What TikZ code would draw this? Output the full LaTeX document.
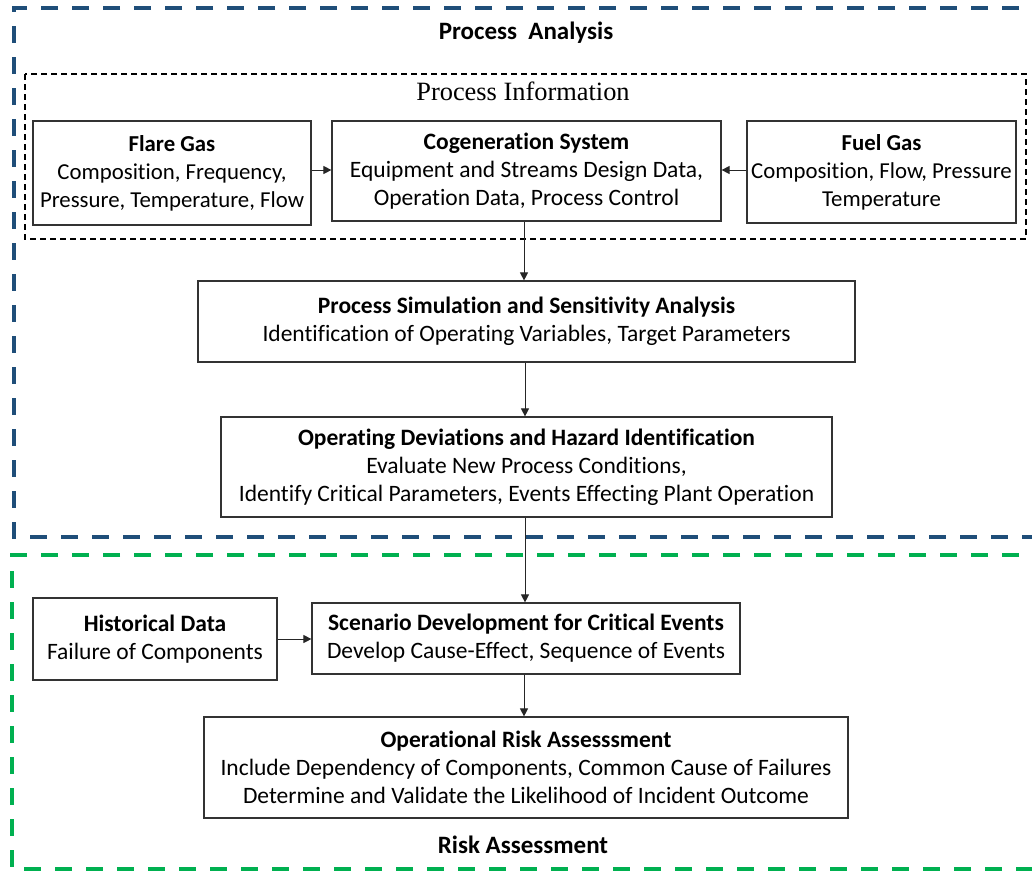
\documentclass[tikz,border=0pt]{standalone}
\usepackage{fontspec}
\setmainfont{Carlito}[Ligatures=NoCommon]
\newfontfamily\serifinfo{Liberation Serif}
\usetikzlibrary{arrows.meta}
\definecolor{pablue}{HTML}{1F4E79}
\definecolor{ragreen}{HTML}{00B050}
\definecolor{boxgray}{HTML}{333333}
\begin{document}
\begin{tikzpicture}[x=1pt,y=-1pt,
  box/.style={draw=boxgray, line width=1.2pt, align=center, inner sep=2pt,
    font=\fontsize{23.5}{28}\selectfont},
  smallbox/.style={box, font=\fontsize{22.8}{28}\selectfont},
  conn/.style={draw=black!85, line width=1pt, -{Triangle[length=8pt,width=8pt]}},
  bigdash/.style={line width=4pt, dash pattern=on 17pt off 14pt},
  ttl/.style={font=\fontsize{25}{28}\selectfont\bfseries}
]
\useasboundingbox (0,0) rectangle (1032,871);
\clip (0,0) rectangle (1032,871);
\fill[white] (0,0) rectangle (1032,871);
% group frames
\draw[bigdash, draw=pablue] (1050,8) -- (14,8) -- (14,537) -- (1050,537);
\draw[bigdash, draw=ragreen] (1050,555) -- (12,555) -- (12,869) -- (1050,869);
\draw[black, line width=1.6pt, dash pattern=on 6pt off 4pt] (25,74) rectangle (1026,239);
% titles
\node[ttl] (tpa) at (526,33) {Process~ Analysis};
\node[font=\serifinfo\fontsize{26.4}{30}\selectfont] (tpi) at (523,91) {Process Information};
\node[ttl] (tra) at (523,845) {Risk Assessment};
% boxes
\node[smallbox, minimum width=278pt, minimum height=104pt] (flare) at (172,173)
  {\textbf{Flare Gas}\\Composition, Frequency,\\Pressure, Temperature, Flow};
\node[box, minimum width=389pt, minimum height=100pt] (cogen) at (526.5,171)
  {\textbf{Cogeneration System}\\Equipment and Streams Design Data,\\Operation Data, Process Control};
\node[smallbox, minimum width=269pt, minimum height=102pt] (fuel) at (881.5,172)
  {\textbf{Fuel Gas}\\Composition, Flow, Pressure\\Temperature};
\node[box, minimum width=657pt, minimum height=81pt] (psim) at (526.5,321.5)
  {\textbf{Process Simulation and Sensitivity Analysis}\\Identification of Operating Variables, Target Parameters};
\node[box, minimum width=611pt, minimum height=100pt] (opdev) at (526.5,467)
  {\textbf{Operating Deviations and Hazard Identification}\\Evaluate New Process Conditions,\\Identify Critical Parameters, Events Effecting Plant Operation};
\node[box, minimum width=244pt, minimum height=82pt] (hist) at (155,639)
  {\textbf{Historical Data}\\Failure of Components};
\node[box, minimum width=428pt, minimum height=71pt] (scen) at (526,638.5)
  {\textbf{Scenario Development for Critical Events}\\Develop Cause-Effect, Sequence of Events};
\node[box, minimum width=644pt, minimum height=101pt] (risk) at (526,767.5)
  {\textbf{Operational Risk Assesssment}\\Include Dependency of Components, Common Cause of Failures\\Determine and Validate the Likelihood of Incident Outcome};
% connectors
\draw[conn] (flare.east |- 0,170) -- (cogen.west |- 0,170);
\draw[conn] (fuel.west |- 0,170) -- (cogen.east |- 0,170);
\draw[conn] (cogen.south -| 524,0) -- (psim.north -| 524,0);
\draw[conn] (psim.south -| 525,0) -- (opdev.north -| 525,0);
\draw[conn] (opdev.south -| 525,0) -- (scen.north -| 525,0);
\draw[conn] (hist.east |- 0,639) -- (scen.west |- 0,639);
\draw[conn] (scen.south -| 524,0) -- (risk.north -| 524,0);
\end{tikzpicture}
\end{document}
